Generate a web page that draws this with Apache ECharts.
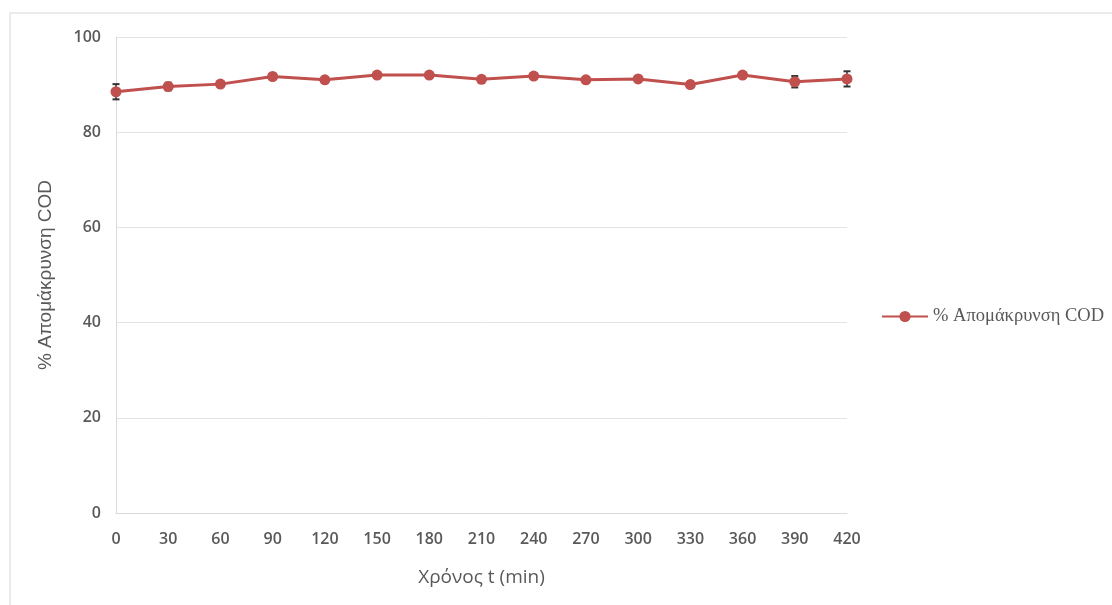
<!DOCTYPE html>
<html>
<head>
<meta charset="utf-8">
<script src="https://cdn.jsdelivr.net/npm/echarts@6/dist/echarts.min.js"></script>
<style>
  html, body { margin: 0; padding: 0; background: #fff; }
  #chart { width: 1112px; height: 605px; }
</style>
</head>
<body>
<div id="chart"></div>
<script>
// Sampling times (min)
const times = [0, 30, 60, 90, 120, 150, 180, 210, 240, 270, 300, 330, 360, 390, 420];
// % COD removal at each time
const removal = [88.5, 89.6, 90.1, 91.7, 91.0, 92.0, 92.0, 91.1, 91.8, 91.0, 91.2, 90.0, 92.0, 90.6, 91.2];
// Standard deviation for error bars
const errors = [1.6, 0.8, 0.5, 0.4, 0.4, 0.4, 0.3, 0.4, 0.4, 0.5, 0.5, 0.6, 0.4, 1.2, 1.6];

const seriesName = '% Απομάκρυνση COD';
const lineColor = '#c0504d';
const textColor = '#595959';

const chart = echarts.init(document.getElementById('chart'), null, { renderer: 'canvas' });

const lineData = times.map((t, i) => [t, removal[i]]);
const errData = times.map((t, i) => [t, removal[i] - errors[i], removal[i] + errors[i]]);

chart.setOption({
  animation: false,
  backgroundColor: '#fff',
  graphic: [{
    type: 'rect',
    shape: { x: 10, y: 13, width: 1200, height: 700 },
    style: { fill: 'none', stroke: '#ebebeb', lineWidth: 2 },
    silent: true
  }],
  grid: { left: 116, top: 37, right: 265, bottom: 92 },
  legend: {
    data: [seriesName],
    left: 876,
    top: 302,
    itemWidth: 46,
    itemHeight: 14,
    itemGap: 6,
    textStyle: { fontFamily: 'Liberation Serif', fontSize: 18.5, color: textColor }
  },
  xAxis: {
    type: 'value',
    min: 0,
    max: 420,
    interval: 30,
    name: 'Χρόνος t (min)',
    nameLocation: 'middle',
    nameGap: 55,
    nameTextStyle: { fontFamily: 'Open Sans', fontSize: 19, color: textColor },
    axisLine: { show: true, lineStyle: { color: '#d9d9d9', width: 1 } },
    axisTick: { show: false },
    splitLine: { show: false },
    axisLabel: { margin: 18, fontFamily: 'Open Sans', fontWeight: 600, fontSize: 16, color: textColor }
  },
  yAxis: {
    type: 'value',
    min: 0,
    max: 100,
    interval: 20,
    name: seriesName,
    nameLocation: 'middle',
    nameGap: 61,
    nameRotate: 90,
    nameTextStyle: { fontFamily: 'Liberation Sans', fontSize: 19, color: textColor },
    axisLine: { show: true, lineStyle: { color: '#d9d9d9', width: 1 } },
    axisTick: { show: false },
    splitLine: { show: true, lineStyle: { color: '#e3e3e3', width: 1 } },
    axisLabel: { margin: 15, fontFamily: 'Open Sans', fontWeight: 600, fontSize: 16, color: textColor }
  },
  series: [
    {
      name: 'error',
      type: 'custom',
      z: 1,
      data: errData,
      renderItem: function (params, api) {
        const x = api.value(0);
        const lo = api.coord([x, api.value(1)]);
        const hi = api.coord([x, api.value(2)]);
        const cap = 3.5;
        return {
          type: 'group',
          children: [
            { type: 'line', shape: { x1: lo[0], y1: lo[1], x2: hi[0], y2: hi[1] }, style: { stroke: '#333', lineWidth: 1.5 } },
            { type: 'line', shape: { x1: lo[0] - cap, y1: lo[1], x2: lo[0] + cap, y2: lo[1] }, style: { stroke: '#333', lineWidth: 2 } },
            { type: 'line', shape: { x1: hi[0] - cap, y1: hi[1], x2: hi[0] + cap, y2: hi[1] }, style: { stroke: '#333', lineWidth: 2 } }
          ]
        };
      }
    },
    {
      name: seriesName,
      type: 'line',
      z: 3,
      data: lineData,
      symbol: 'circle',
      symbolSize: 11,
      lineStyle: { color: lineColor, width: 3 },
      itemStyle: { color: lineColor }
    }
  ]
});
</script>
</body>
</html>
